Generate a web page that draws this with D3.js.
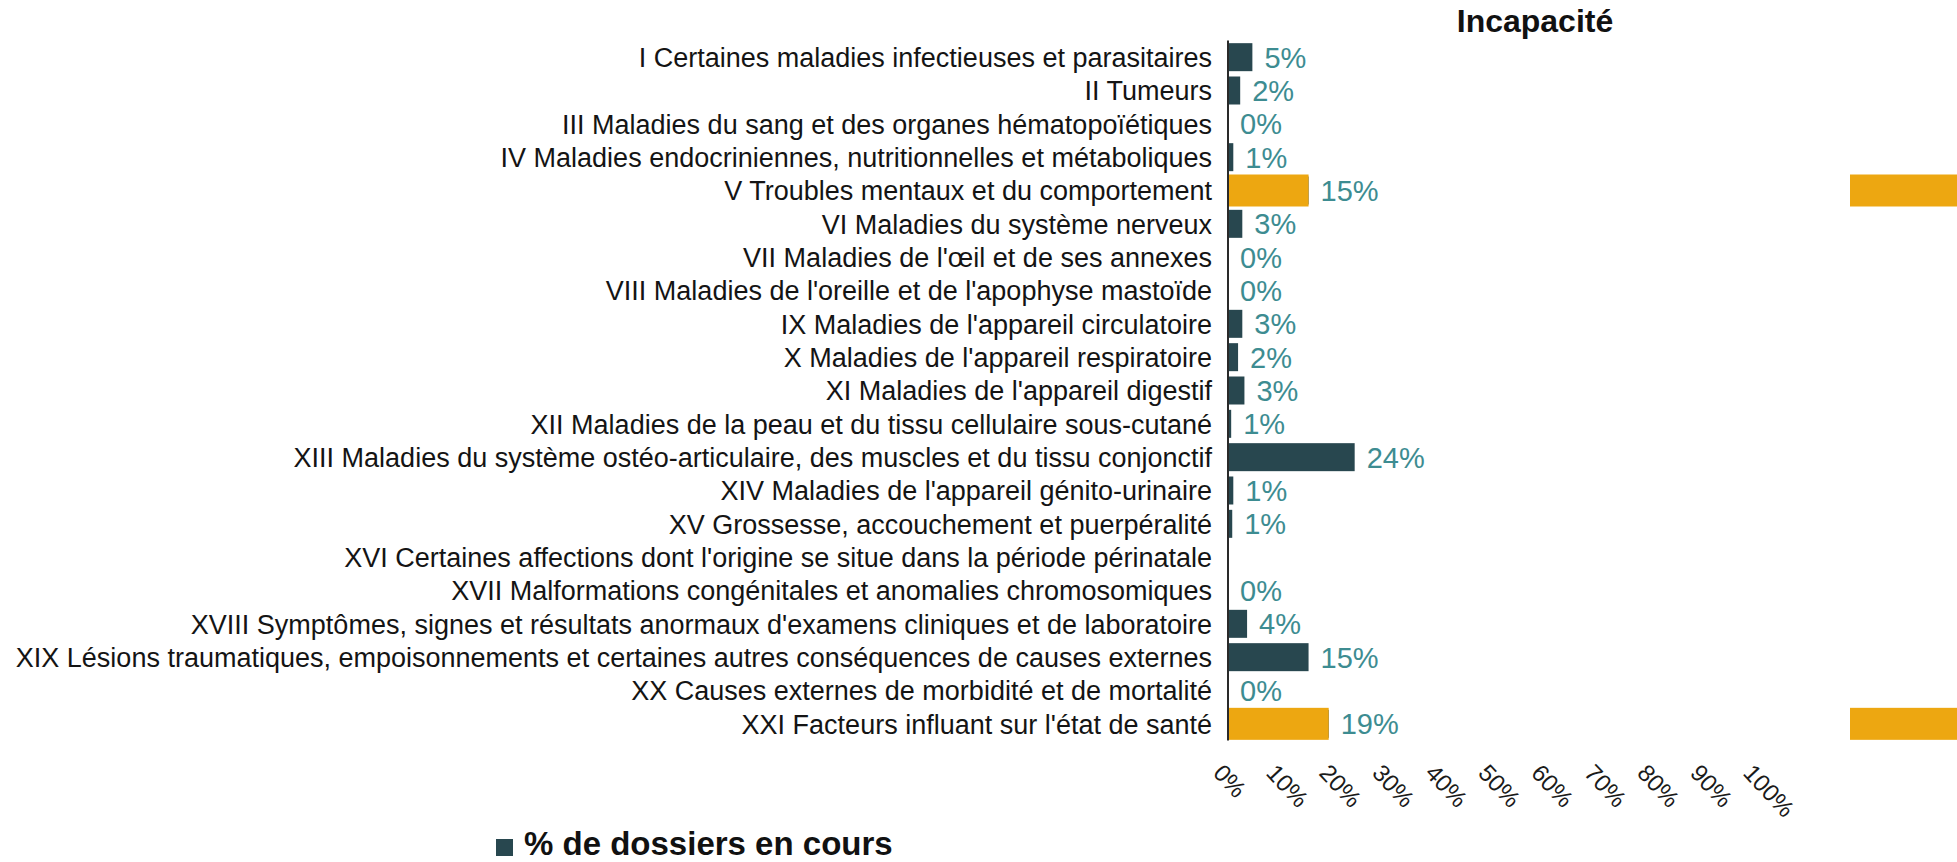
<!DOCTYPE html>
<html lang="fr">
<head>
  <meta charset="UTF-8">
  <title>Incapacité</title>
  <script src="https://d3js.org/d3.v7.min.js"></script>
  <style>
    body { margin: 0; background: #fff; }
    svg { display: block; font-family: "Liberation Sans", Arial, sans-serif; }
    .cat-label { font-size: 27px; fill: #141414; }
    .value-label { font-size: 29px; fill: #3d8c91; }
    .tick-label { font-size: 24px; fill: #1a1a1a; }
    .title { font-size: 32px; font-weight: bold; fill: #111; }
    .legend-text { font-size: 33px; font-weight: bold; fill: #111; }
  </style>
</head>
<body>
  <div class="chart"></div>
  <script>
    // categories (CIM chapters)
    const categories = [
      "I Certaines maladies infectieuses et parasitaires",
      "II Tumeurs",
      "III Maladies du sang et des organes hématopoïétiques",
      "IV Maladies endocriniennes, nutritionnelles et métaboliques",
      "V Troubles mentaux et du comportement",
      "VI Maladies du système nerveux",
      "VII Maladies de l'œil et de ses annexes",
      "VIII Maladies de l'oreille et de l'apophyse mastoïde",
      "IX Maladies de l'appareil circulatoire",
      "X Maladies de l'appareil respiratoire",
      "XI Maladies de l'appareil digestif",
      "XII Maladies de la peau et du tissu cellulaire sous-cutané",
      "XIII Maladies du système ostéo-articulaire, des muscles et du tissu conjonctif",
      "XIV Maladies de l'appareil génito-urinaire",
      "XV Grossesse, accouchement et puerpéralité",
      "XVI Certaines affections dont l'origine se situe dans la période périnatale",
      "XVII Malformations congénitales et anomalies chromosomiques",
      "XVIII Symptômes, signes et résultats anormaux d'examens cliniques et de laboratoire",
      "XIX Lésions traumatiques, empoisonnements et certaines autres conséquences de causes externes",
      "XX Causes externes de morbidité et de mortalité",
      "XXI Facteurs influant sur l'état de santé"
    ]

    // % de dossiers en cours (null = no data)
    const values = [4.6, 2.3, 0, 1.0, 15.2, 2.7, 0, 0, 2.7, 1.9, 3.1, 0.6, 23.9, 1.0, 0.8, null, 0, 3.6, 15.2, 0, 19.0]

    // highlighted chapters (orange)
    const highlight = [null, null, null, null, 15.2, null, null, null, null, null, null, null, null, null, null, null, null, null, null, null, 19.0]

    const xTicks = [0, 10, 20, 30, 40, 50, 60, 70, 80, 90, 100]

    const title = "Incapacité"
    const legendLabel = "% de dossiers en cours"

    const width = 1957, height = 862
    const margin = {top: 40.5, bottom: 121.5, left: 1228, right: 199}

    const darkColor = "#28474f"
    const orangeColor = "#eda711"

    const svg = d3.select(".chart")
      .append("svg")
        .attr("width", width)
        .attr("height", height)

    const x = d3.scaleLinear()
      .domain([0, 100])
      .range([margin.left, width - margin.right])

    const yDark = d3.scaleBand()
      .domain(categories)
      .range([margin.top, height - margin.bottom])
      .paddingInner(0.16)
      .paddingOuter(0.08)

    const yHi = d3.scaleBand()
      .domain(categories)
      .range([margin.top, height - margin.bottom])
      .paddingInner(0.04)
      .paddingOuter(0.02)

    const rows = categories.map((c, i) => ({cat: c, value: values[i], hi: highlight[i]}))

    // dark bars
    svg.append("g")
      .selectAll("rect")
      .data(rows.filter(d => d.value != null && d.value > 0))
      .join("rect")
        .attr("x", x(0))
        .attr("y", d => yDark(d.cat))
        .attr("width", d => x(d.value) - x(0))
        .attr("height", yDark.bandwidth())
        .attr("fill", darkColor)

    // orange bars
    svg.append("g")
      .selectAll("rect")
      .data(rows.filter(d => d.hi != null))
      .join("rect")
        .attr("x", x(0))
        .attr("y", d => yHi(d.cat))
        .attr("width", d => x(d.hi) - x(0))
        .attr("height", yHi.bandwidth())
        .attr("fill", orangeColor)

    // markers at the right edge for the highlighted rows
    const markerX = 1850
    svg.append("g")
      .selectAll("rect")
      .data(rows.filter(d => d.hi != null))
      .join("rect")
        .attr("x", markerX)
        .attr("y", d => yHi(d.cat))
        .attr("width", width - markerX)
        .attr("height", yHi.bandwidth())
        .attr("fill", orangeColor)

    // value labels
    svg.append("g")
      .selectAll("text")
      .data(rows.filter(d => d.value != null))
      .join("text")
        .attr("class", "value-label")
        .attr("x", d => x(d.value) + 12)
        .attr("y", d => yDark(d.cat) + yDark.bandwidth() / 2)
        .attr("dy", ".36em")
        .text(d => Math.round(d.value) + "%")

    // category labels
    svg.append("g")
      .selectAll("text")
      .data(categories)
      .join("text")
        .attr("class", "cat-label")
        .attr("x", x(0) - 16)
        .attr("y", d => yDark(d) + yDark.bandwidth() / 2)
        .attr("dy", ".36em")
        .attr("text-anchor", "end")
        .text(d => d)

    // y axis line
    svg.append("line")
      .attr("x1", x(0))
      .attr("x2", x(0))
      .attr("y1", margin.top)
      .attr("y2", height - margin.bottom)
      .attr("stroke", "#2a2a2a")
      .attr("stroke-width", 2)

    // x tick labels, rotated
    svg.append("g")
      .selectAll("text")
      .data(xTicks)
      .join("text")
        .attr("class", "tick-label")
        .attr("transform", d => `translate(${x(d) - 16},${height - margin.bottom + 33.5}) rotate(47)`)
        .text(d => d + "%")

    // title
    svg.append("text")
      .attr("class", "title")
      .attr("x", 1535)
      .attr("y", 32)
      .attr("text-anchor", "middle")
      .text(title)

    // legend
    const legend = svg.append("g").attr("transform", "translate(496,839)")
    legend.append("rect")
      .attr("width", 17)
      .attr("height", 17)
      .attr("fill", darkColor)
    legend.append("text")
      .attr("class", "legend-text")
      .attr("x", 28)
      .attr("y", 16)
      .text(legendLabel)
  </script>
</body>
</html>
